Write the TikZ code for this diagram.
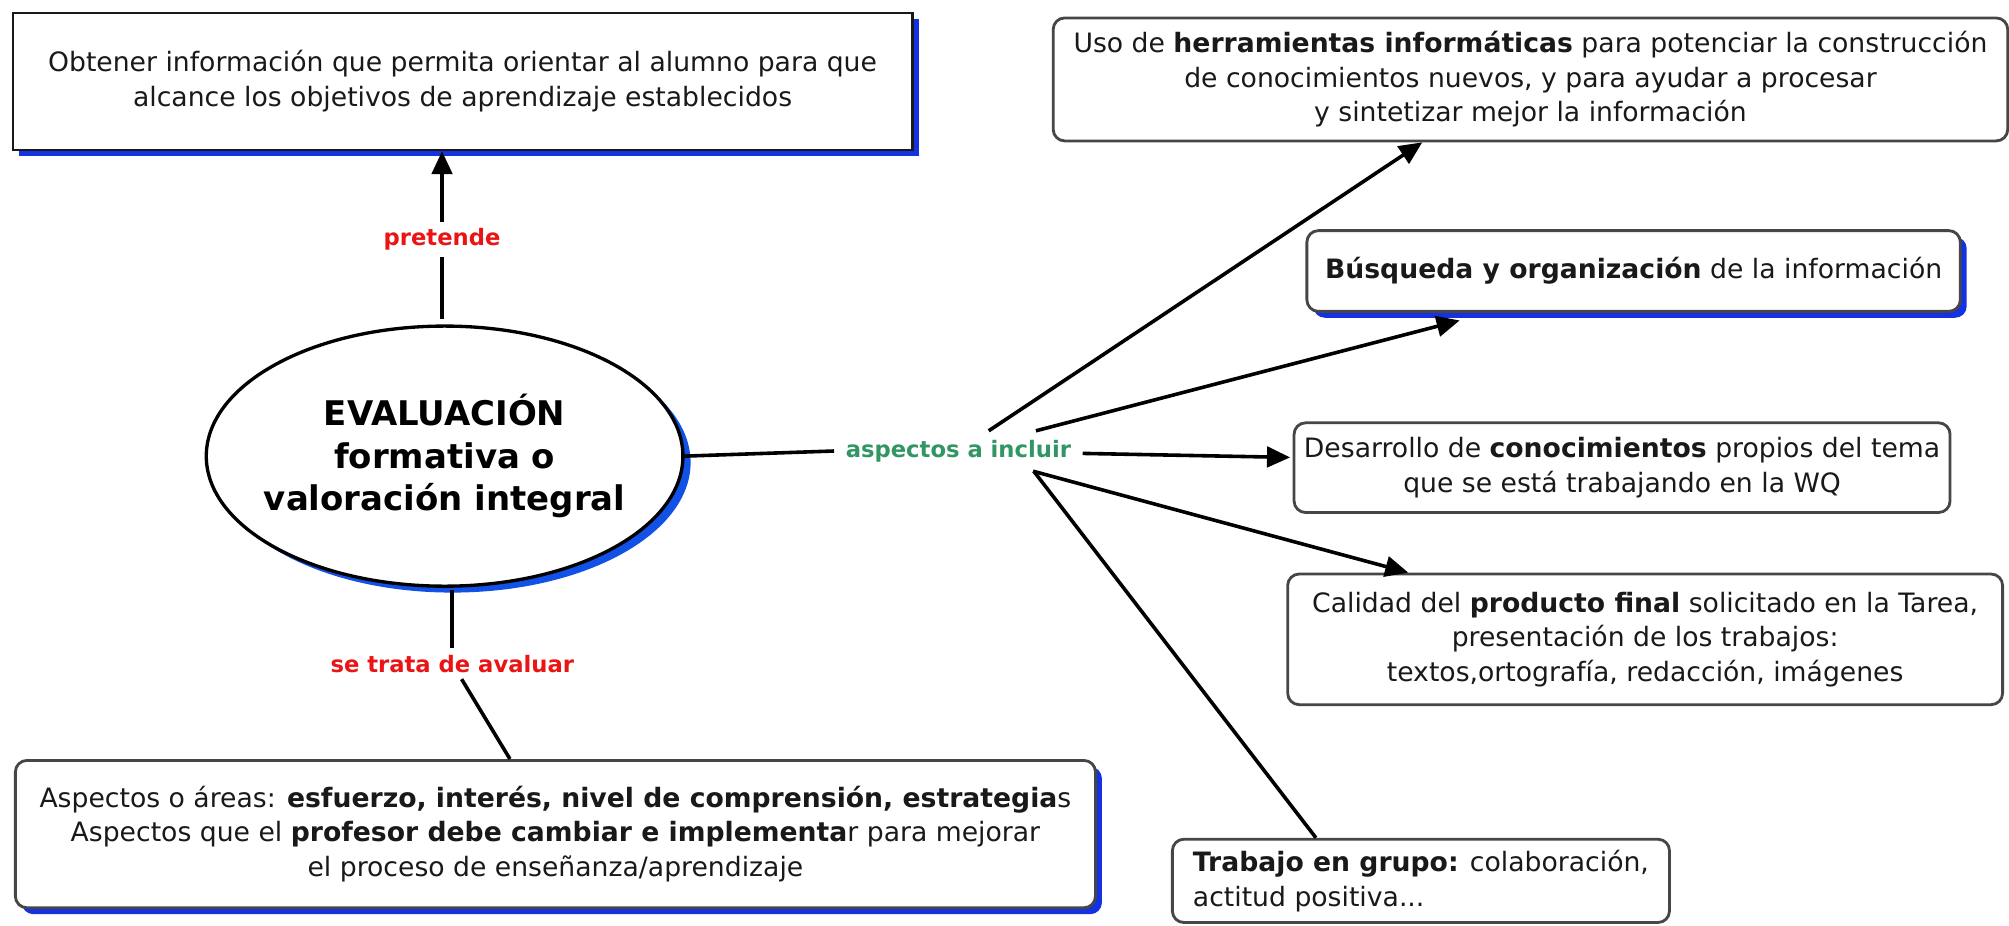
\documentclass[tikz,border=0pt]{standalone}
\usepackage{fontspec}
\setmainfont{DejaVu Sans}
\usetikzlibrary{arrows.meta,shadows,calc,shapes.geometric}
\definecolor{textc}{RGB}{25,25,25}
\definecolor{shblue}{RGB}{20,50,225}
\definecolor{labred}{RGB}{235,20,20}
\definecolor{labgreen}{RGB}{50,150,100}
\definecolor{bordc}{RGB}{70,70,70}
\tikzset{
  txt/.style={font=\fontsize{20.8}{27}\selectfont, text=textc, align=center, inner sep=0pt},
  sqbox/.style={txt, draw=black!90, line width=2pt, fill=white},
  rbox/.style={txt, draw=bordc, line width=2.2pt, rounded corners=9pt, fill=white},
  bshadow/.style={general shadow={fill=shblue, shadow xshift=5pt, shadow yshift=-5pt}},
  eshadow/.style={general shadow={fill=shblue!85!cyan, shadow xshift=6pt, shadow yshift=-5pt}},
  conn/.style={line width=2.8pt, draw=black},
  arr/.style={conn, -{Triangle[length=18pt,width=16pt]}},
  lab/.style={font=\fontsize{17.7}{20}\selectfont\bfseries, inner xsep=9pt, inner ysep=5pt},
}
\begin{document}
\begin{tikzpicture}[x=1pt,y=-1pt]
\useasboundingbox (0,0) rectangle (1568,722);
% boxes
\node[sqbox, bshadow, minimum width=702pt, minimum height=107pt] (obj) at (361,63.5)
  {Obtener información que permita orientar al alumno para que\\alcance los objetivos de aprendizaje establecidos};
\node[rbox, minimum width=745pt, minimum height=96pt] (herr) at (1194.5,62)
  {Uso de \textbf{herramientas informáticas} para potenciar la construcción\\de conocimientos nuevos, y para ayudar a procesar\\y sintetizar mejor la información};
\node[rbox, bshadow, minimum width=510pt, minimum height=63pt] (busq) at (1275,211.5)
  {\textbf{Búsqueda y organización} de la información};
\node[rbox, minimum width=512pt, minimum height=70pt] (desa) at (1266,365)
  {Desarrollo de \textbf{conocimientos} propios del tema\\que se está trabajando en la WQ};
\node[rbox, minimum width=558pt, minimum height=102pt] (cali) at (1284,499)
  {Calidad del \textbf{producto final} solicitado en la Tarea,\\presentación de los trabajos:\\textos,ortografía, redacción, imágenes};
\node[rbox, align=left, minimum width=388pt, minimum height=65pt] (trab) at (1109,687.5)
  {\textbf{Trabajo en grupo:} colaboración,\\actitud positiva...};
\node[rbox, bshadow, minimum width=843pt, minimum height=115pt] (asp) at (433.5,651)
  {Aspectos o áreas: \textbf{esfuerzo, interés, nivel de comprensión, estrategia}s\\Aspectos que el \textbf{profesor debe cambiar e implementa}r para mejorar\\el proceso de enseñanza/aprendizaje};
% central ellipse
\node[ellipse, draw=black, line width=2.6pt, fill=white, eshadow, minimum width=372pt, minimum height=203pt,
  inner xsep=-20pt, inner ysep=0pt,
  font=\fontsize{26.5}{33}\selectfont\bfseries, text=black, align=center] (ell) at (347,356)
  {EVALUACIÓN\\formativa o\\valoración integral};
% linking phrases
\node[lab, text=labred] (pret) at (345,187) {pretende};
\node[lab, text=labgreen, inner ysep=7pt] (incl) at (748,352) {aspectos a incluir};
\node[lab, text=labred] (trat) at (353,518) {se trata de avaluar};
% connectors
\draw[conn, shorten <=4pt] (pret.south |- ell.north) -- (pret.south);
\draw[arr] (pret.north) -- (pret.north |- obj.south);
\draw[conn] (ell.east) -- (incl.west);
\draw[arr] (incl) -- ($(herr.south west)!0.387!(herr.south east)$);
\draw[arr] (incl) -- ($(busq.south west)!0.235!(busq.south east)+(0,6)$);
\draw[arr] (incl) -- ($(desa.west)+(-2,-8)$);
\draw[arr] (incl) -- ($(cali.north west)!0.17!(cali.north east)$);
\draw[conn] (incl.-15) -- ($(trab.north west)!0.29!(trab.north east)$);
\draw[conn, shorten <=2pt] (trat.north |- ell.south) -- (trat.north);
\draw[conn] (trat) -- ($(asp.north west)!0.458!(asp.north east)$);
\end{tikzpicture}
\end{document}
